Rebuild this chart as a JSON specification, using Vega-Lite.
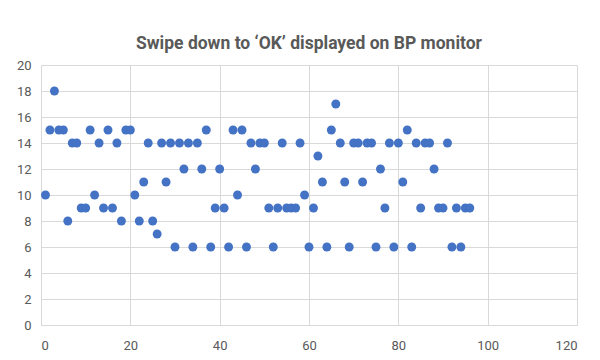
{
  "$schema": "https://vega.github.io/schema/vega-lite/v6.json",
  "width": 536,
  "height": 260,
  "autosize": {"type": "none"},
  "padding": {"left": 41, "top": 65, "right": 23, "bottom": 35},
  "background": "white",
  "title": {
    "text": "Swipe down to ‘OK’ displayed on BP monitor",
    "font": "Roboto",
    "fontSize": 17.5,
    "fontWeight": "bold",
    "color": "#595959",
    "anchor": "middle",
    "offset": 7
  },
  "config": {
    "view": {"stroke": null},
    "axis": {
      "labelFont": "Roboto",
      "labelFontSize": 13,
      "labelColor": "#595959",
      "gridColor": "#d9d9d9",
      "gridWidth": 1,
      "domainColor": "#d9d9d9",
      "ticks": false,
      "title": null
    }
  },
  "data": {
    "values": [
      {"trial": 1, "seconds": 10}, {"trial": 2, "seconds": 15}, {"trial": 3, "seconds": 18}, {"trial": 4, "seconds": 15},
      {"trial": 5, "seconds": 15}, {"trial": 6, "seconds": 8}, {"trial": 7, "seconds": 14}, {"trial": 8, "seconds": 14},
      {"trial": 9, "seconds": 9}, {"trial": 10, "seconds": 9}, {"trial": 11, "seconds": 15}, {"trial": 12, "seconds": 10},
      {"trial": 13, "seconds": 14}, {"trial": 14, "seconds": 9}, {"trial": 15, "seconds": 15}, {"trial": 16, "seconds": 9},
      {"trial": 17, "seconds": 14}, {"trial": 18, "seconds": 8}, {"trial": 19, "seconds": 15}, {"trial": 20, "seconds": 15},
      {"trial": 21, "seconds": 10}, {"trial": 22, "seconds": 8}, {"trial": 23, "seconds": 11}, {"trial": 24, "seconds": 14},
      {"trial": 25, "seconds": 8}, {"trial": 26, "seconds": 7}, {"trial": 27, "seconds": 14}, {"trial": 28, "seconds": 11},
      {"trial": 29, "seconds": 14}, {"trial": 30, "seconds": 6}, {"trial": 31, "seconds": 14}, {"trial": 32, "seconds": 12},
      {"trial": 33, "seconds": 14}, {"trial": 34, "seconds": 6}, {"trial": 35, "seconds": 14}, {"trial": 36, "seconds": 12},
      {"trial": 37, "seconds": 15}, {"trial": 38, "seconds": 6}, {"trial": 39, "seconds": 9}, {"trial": 40, "seconds": 12},
      {"trial": 41, "seconds": 9}, {"trial": 42, "seconds": 6}, {"trial": 43, "seconds": 15}, {"trial": 44, "seconds": 10},
      {"trial": 45, "seconds": 15}, {"trial": 46, "seconds": 6}, {"trial": 47, "seconds": 14}, {"trial": 48, "seconds": 12},
      {"trial": 49, "seconds": 14}, {"trial": 50, "seconds": 14}, {"trial": 51, "seconds": 9}, {"trial": 52, "seconds": 6},
      {"trial": 53, "seconds": 9}, {"trial": 54, "seconds": 14}, {"trial": 55, "seconds": 9}, {"trial": 56, "seconds": 9},
      {"trial": 57, "seconds": 9}, {"trial": 58, "seconds": 14}, {"trial": 59, "seconds": 10}, {"trial": 60, "seconds": 6},
      {"trial": 61, "seconds": 9}, {"trial": 62, "seconds": 13}, {"trial": 63, "seconds": 11}, {"trial": 64, "seconds": 6},
      {"trial": 65, "seconds": 15}, {"trial": 66, "seconds": 17}, {"trial": 67, "seconds": 14}, {"trial": 68, "seconds": 11},
      {"trial": 69, "seconds": 6}, {"trial": 70, "seconds": 14}, {"trial": 71, "seconds": 14}, {"trial": 72, "seconds": 11},
      {"trial": 73, "seconds": 14}, {"trial": 74, "seconds": 14}, {"trial": 75, "seconds": 6}, {"trial": 76, "seconds": 12},
      {"trial": 77, "seconds": 9}, {"trial": 78, "seconds": 14}, {"trial": 79, "seconds": 6}, {"trial": 80, "seconds": 14},
      {"trial": 81, "seconds": 11}, {"trial": 82, "seconds": 15}, {"trial": 83, "seconds": 6}, {"trial": 84, "seconds": 14},
      {"trial": 85, "seconds": 9}, {"trial": 86, "seconds": 14}, {"trial": 87, "seconds": 14}, {"trial": 88, "seconds": 12},
      {"trial": 89, "seconds": 9}, {"trial": 90, "seconds": 9}, {"trial": 91, "seconds": 14}, {"trial": 92, "seconds": 6},
      {"trial": 93, "seconds": 9}, {"trial": 94, "seconds": 6}, {"trial": 95, "seconds": 9}, {"trial": 96, "seconds": 9}
    ]
  },
  "mark": {"type": "point", "filled": true, "opacity": 1, "size": 80, "color": "#4472C4"},
  "encoding": {
    "x": {
      "field": "trial",
      "type": "quantitative",
      "scale": {"domain": [0, 120], "nice": false},
      "axis": {"values": [0, 20, 40, 60, 80, 100, 120], "labelPadding": 14, "domain": true}
    },
    "y": {
      "field": "seconds",
      "type": "quantitative",
      "scale": {"domain": [0, 20], "nice": false},
      "axis": {"values": [0, 2, 4, 6, 8, 10, 12, 14, 16, 18, 20], "labelPadding": 10, "domain": true}
    }
  }
}
